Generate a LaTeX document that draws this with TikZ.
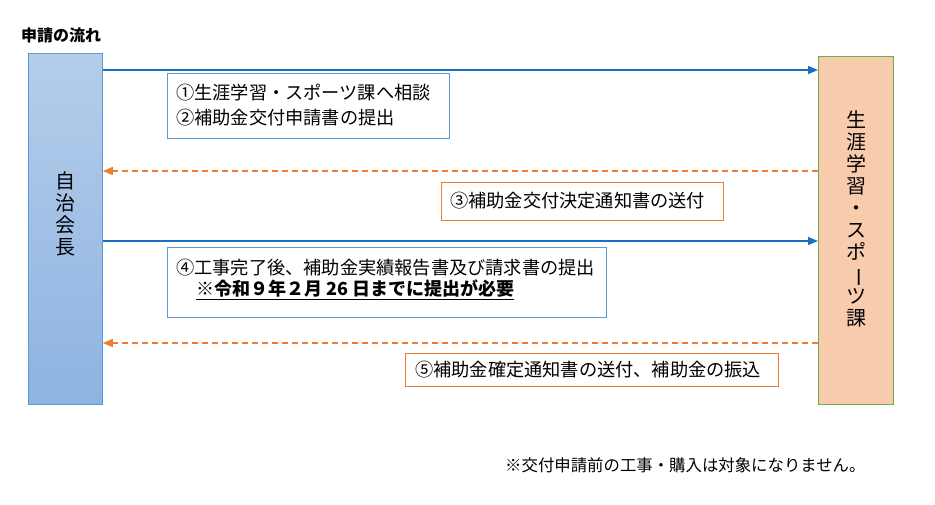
\documentclass[tikz,border=0pt]{standalone}
\usepackage{fontspec}
\newfontfamily\jp{Noto Sans CJK JP}
\usetikzlibrary{arrows.meta}
\definecolor{lbtop}{HTML}{B5CDEA}
\definecolor{lbbot}{HTML}{8DB3E2}
\definecolor{lbline}{HTML}{5B9BD5}
\definecolor{rbfill}{HTML}{F8CBAD}
\definecolor{rbline}{HTML}{70AD47}
\definecolor{arrblue}{HTML}{1A6FC0}
\definecolor{orng}{HTML}{ED7D31}
\tikzset{
  sidebox/.style={rectangle, inner sep=0pt, line width=0.8pt},
  bluebox/.style={draw=lbline, rectangle, inner sep=0pt, line width=0.9pt},
  orangebox/.style={draw=orng, rectangle, inner sep=0pt, line width=0.9pt},
  txt/.style={inner sep=0pt, anchor=west, font=\jp\fontsize{18.2}{22}\selectfont},
  vtext/.style={inner sep=0pt, align=center, font=\jp\fontsize{20}{22}\selectfont},
  barrow/.style={draw=arrblue, line width=1.4pt, -{Triangle[length=10pt,width=8pt]}},
  oarrow/.style={draw=orng, line width=1.4pt, dash pattern=on 6pt off 4pt, -{Triangle[length=10pt,width=8pt]}}
}
\begin{document}
\begin{tikzpicture}[x=1pt,y=-1pt]
\useasboundingbox[fill=white] (0,0) rectangle (935,504);
% title
\node[inner sep=0pt, anchor=west, font=\jp\bfseries\fontsize{16}{19}\selectfont] (title) at (21,35) {申請の流れ};
% side boxes
\node[sidebox, draw=lbline, top color=lbtop, bottom color=lbbot, minimum width=74pt, minimum height=351pt, anchor=north west] (L) at (28,53) {};
\node[vtext] (Lt) at (65,214) {自\\治\\会\\長};
\node[sidebox, draw=rbline, fill=rbfill, minimum width=75pt, minimum height=348pt, anchor=north west] (R) at (818,56) {};
\node[vtext] (Rt) at (856,219) {生\\涯\\学\\習\\・\\ス\\ポ\\\rotatebox[origin=c]{-90}{ー}\\ツ\\課};
% row coordinates
\coordinate (y1) at (0,70);
\coordinate (y3) at (0,171);
\coordinate (y4) at (0,241);
\coordinate (y5) at (0,343);
% arrows
\draw[barrow] (L.east |- y1) -- (R.west |- y1);
\draw[oarrow] (R.west |- y3) -- (L.east |- y3);
\draw[barrow] (L.east |- y4) -- (R.west |- y4);
\draw[oarrow] (R.west |- y5) -- (L.east |- y5);
% box 1
\node[bluebox, minimum width=282pt, minimum height=65pt, anchor=north west] (b1) at (167,73) {};
\node[txt] (t1a) at (176,93) {①生涯学習・スポーツ課へ相談};
\node[txt] (t1b) at (176,118) {②補助金交付申請書の提出};
% box 3
\node[orangebox, minimum width=282pt, minimum height=38pt, anchor=north west] (b3) at (441,182) {};
\node[txt] (t3) at (450,201) {③補助金交付決定通知書の送付};
% box 4
\node[bluebox, minimum width=439pt, minimum height=70pt, anchor=north west] (b4) at (167,247) {};
\node[txt] (t4a) at (176,268) {④工事完了後、補助金実績報告書及び請求書の提出};
\node[txt, font=\jp\bfseries\fontsize{18}{22}\selectfont] (t4b) at (196,290) {\underline{※令和９年２月 26 日までに提出が必要}};
% box 5
\node[orangebox, minimum width=373pt, minimum height=33pt, anchor=north west] (b5) at (405,353) {};
\node[txt] (t5) at (415,370) {⑤補助金確定通知書の送付、補助金の振込};
% footer
\node[inner sep=0pt, anchor=west, font=\jp\fontsize{16.4}{20}\selectfont] (foot) at (505,465) {※交付申請前の工事・購入は対象になりません。};
\end{tikzpicture}
\end{document}
